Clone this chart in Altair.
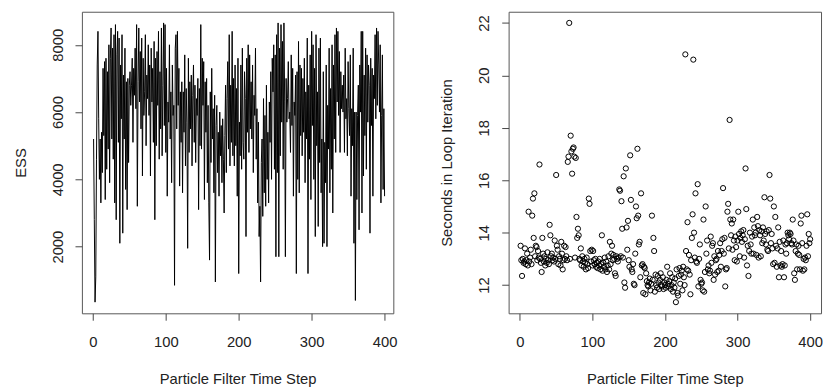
import altair as alt
import pandas as pd

# ---- data ----
ESS = [
    5200, 2800, 350, 1100, 4600, 7400, 8400, 5800, 4000, 5200, 3300, 5400, 4200, 7300, 5300, 7500, 3400, 7600, 4300, 7200,
    4900, 8000, 3900, 7600, 8500, 5200, 7900, 4600, 8300, 3300, 8600, 2800, 7700, 8400, 5100, 8200, 2100, 7400, 5800, 8300,
    2400, 7100, 5200, 7900, 3700, 6900, 3100, 7000, 4500, 6800, 7200, 6200, 6800, 7600, 5100, 7300, 6500, 7900, 6100, 8600,
    3200, 6900, 8500, 6300, 7800, 5500, 8200, 4100, 7600, 5900, 6600, 8300, 5000, 7100, 6400, 8000, 5900, 7400, 4100, 7900,
    6300, 7300, 5100, 8100, 2800, 7600, 5000, 7800, 6200, 8400, 4600, 7200, 5500, 8500, 4700, 6800, 8650, 5600, 8600, 4800,
    7300, 3500, 6300, 5700, 8000, 5200, 6600, 3900, 7400, 5900, 6200, 850, 7900, 8300, 5500, 8400, 6200, 7300, 3800, 6600,
    5100, 6900, 3600, 6600, 5400, 7700, 4400, 6700, 5700, 1950, 7600, 4800, 6900, 5500, 7100, 4400, 6500, 7400, 5100, 6800,
    4500, 6400, 5900, 7000, 3100, 6700, 5000, 8600, 4900, 7600, 6200, 7500, 3400, 6900, 5400, 7000, 3900, 6200, 3300, 1600,
    6600, 4500, 7300, 5200, 6100, 3600, 6500, 950, 5600, 6200, 4200, 5400, 3500, 6000, 4700, 5600, 3900, 5800, 4600, 3000,
    5300, 6800, 4200, 6400, 7500, 4900, 8300, 4400, 6800, 5100, 8400, 4700, 7000, 4400, 7400, 5000, 6700, 3500, 7600, 1200,
    5700, 4700, 7400, 4300, 7900, 5100, 4600, 7200, 6400, 2300, 7600, 5400, 8000, 4800, 7700, 5500, 6900, 5200, 7400, 4200,
    6500, 5900, 7900, 4600, 6100, 3300, 5700, 2300, 3200, 950, 4500, 5200, 2900, 6400, 3600, 5900, 3200, 6800, 4000, 5400,
    3300, 6300, 5100, 7200, 4000, 7600, 6600, 8000, 4300, 7700, 1700, 8300, 4200, 8650, 1700, 7900, 4700, 8600, 5700, 8100,
    4300, 8650, 6300, 1700, 7000, 5700, 6400, 7500, 5800, 6000, 4800, 7700, 5600, 7300, 3500, 6300, 5900, 7100, 1200, 7200,
    4000, 8100, 3600, 7400, 5300, 7300, 4700, 7000, 5400, 7600, 3900, 6600, 5200, 8200, 1200, 6800, 4600, 7700, 3400, 8400,
    5600, 8000, 4000, 7300, 2300, 8300, 5000, 6600, 2600, 7900, 4500, 8200, 3600, 5200, 2000, 7200, 2100, 5100, 3900, 7400,
    2000, 6200, 4900, 7900, 3600, 6700, 4300, 8000, 3000, 7400, 5200, 8300, 4800, 8500, 6300, 8400, 5900, 7800, 4800, 7200,
    6100, 6800, 6000, 7100, 4800, 7900, 5800, 6400, 4700, 7500, 6100, 5300, 7700, 3500, 6100, 5000, 7900, 2100, 6000, 400,
    6000, 3400, 5900, 6800, 2500, 7400, 6000, 8400, 3000, 8400, 4100, 7100, 5300, 7900, 4300, 7700, 5700, 7400, 6800, 2400,
    7600, 5600, 7300, 3500, 7100, 6400, 8300, 5800, 8500, 6200, 8400, 7400, 6000, 8000, 3300, 5900, 7700, 3700, 6100, 3500,
]

SECONDS = [
    13.5, 12.95, 12.35, 13.0, 12.85, 12.9, 13.4, 12.8, 12.95, 13.2, 12.75, 14.8, 12.9, 13.05, 13.35, 12.8, 14.65, 15.3, 13.8, 15.5,
    13.1, 13.5, 13.45, 12.95, 13.3, 13.05, 16.6, 13.0, 12.85, 12.5, 13.8, 13.2, 12.9, 13.1, 12.75, 13.0, 12.85, 13.25, 12.95, 12.8,
    14.3, 13.9, 13.1, 13.2, 12.95, 13.05, 12.9, 13.7, 13.0, 16.2, 13.5, 13.35, 12.8, 13.1, 13.0, 12.75, 13.65, 13.2, 12.6, 12.95,
    13.5, 13.0, 13.45, 13.1, 12.95, 16.7, 16.9, 22.0, 13.0, 17.7, 17.1, 16.25, 17.2, 17.25, 16.9, 13.05, 16.85, 14.6, 13.8, 14.15,
    13.9, 13.0, 12.95, 13.4, 12.75, 13.1, 12.9, 12.7, 13.0, 12.85, 12.6, 13.05, 12.8, 12.65, 15.3, 15.1, 13.3, 12.9, 13.35, 12.75,
    13.3, 12.95, 12.8, 13.0, 12.7, 12.85, 12.65, 12.9, 12.75, 13.0, 12.6, 12.8, 13.9, 12.55, 12.85, 12.7, 13.05, 12.6, 12.9, 12.5,
    12.75, 13.1, 12.6, 13.65, 12.8, 13.2, 13.5, 12.95, 13.15, 13.0, 12.45, 12.35, 13.1, 13.0, 12.9, 13.05, 15.65, 15.6, 13.1, 15.2,
    14.15, 13.05, 16.15, 12.1, 11.9, 16.45, 14.2, 13.35, 14.45, 12.95, 12.7, 16.95, 15.25, 12.6, 12.5, 12.8, 12.05, 12.0, 13.2, 15.0,
    14.55, 17.2, 14.65, 13.55, 13.65, 12.3, 15.5, 12.75, 12.8, 11.7, 12.7, 12.65, 11.65, 12.45, 12.15, 12.0, 11.95, 12.1, 12.25, 11.8,
    12.05, 14.65, 12.2, 13.8, 13.3, 11.75, 12.4, 12.0, 11.9, 12.35, 12.1, 11.85, 12.2, 12.45, 12.0, 11.95, 12.3, 11.85, 12.1, 12.0,
    11.9, 12.2, 12.7, 12.05, 11.95, 12.15, 12.45, 11.85, 12.0, 12.3, 11.75, 12.1, 11.9, 12.25, 11.35, 12.6, 11.7, 11.6, 12.35, 12.65,
    12.05, 12.4, 12.55, 11.8, 12.7, 12.3, 12.0, 20.8, 13.3, 12.6, 14.4, 12.55, 13.15, 12.4, 11.65, 12.95, 13.8, 14.7, 20.6, 14.0,
    13.05, 15.5, 12.9, 12.85, 15.85, 11.95, 13.0, 13.55, 12.2, 12.05, 12.1, 11.8, 14.5, 11.75, 12.5, 15.0, 13.2, 13.7, 12.6, 12.75,
    12.45, 12.55, 13.85, 12.85, 13.5, 13.6, 12.2, 13.1, 12.4, 12.95, 13.0, 12.5, 13.3, 12.55, 13.15, 13.6, 12.7, 13.3, 13.75, 15.7,
    13.2, 13.8, 11.95, 12.6, 12.65, 14.8, 15.1, 13.4, 18.3, 14.5, 13.9, 14.35, 13.35, 14.5, 13.7, 12.95, 13.85, 13.45, 12.9, 13.7,
    14.8, 13.95, 13.1, 13.8, 14.05, 13.65, 13.9, 14.1, 13.05, 13.75, 16.45, 14.9, 12.75, 13.5, 12.35, 13.3, 14.0, 13.55, 13.2, 13.85,
    14.5, 13.2, 14.2, 13.9, 14.0, 13.15, 14.6, 14.25, 13.05, 14.1, 13.9, 13.1, 14.05, 13.6, 14.2, 13.7, 15.35, 13.95, 13.55, 14.05,
    13.35, 13.3, 14.1, 16.2, 15.3, 13.6, 13.95, 13.4, 12.8, 15.0, 12.85, 14.6, 13.5, 12.7, 13.4, 14.2, 12.3, 13.65, 12.75, 13.3,
    12.7, 12.8, 13.7, 12.3, 12.75, 13.55, 13.2, 13.6, 14.0, 13.9, 13.75, 14.0, 13.95, 13.6, 13.55, 14.5, 13.7, 12.45, 12.2, 13.3,
    13.55, 12.6, 13.2, 13.5, 13.15, 12.6, 14.35, 14.65, 13.6, 12.55, 13.0, 12.6, 13.05, 12.95, 13.5, 14.7, 13.1, 13.95, 13.6, 13.75,
]

STEPS_ESS = list(range(1, len(ESS) + 1))
STEPS_SEC = list(range(1, len(SECONDS) + 1))

X_TICKS = [0, 100, 200, 300, 400]
ESS_TICKS = [2000, 4000, 6000, 8000]
SEC_TICKS = [12, 14, 16, 18, 20, 22]

FONT = "Liberation Sans"
TXT = "#222222"

ess_df = pd.DataFrame({"step": STEPS_ESS, "ess": ESS})
sec_df = pd.DataFrame({"step": STEPS_SEC, "sec": SECONDS})


def x_axis():
    return alt.Axis(values=X_TICKS, format="d", title="Particle Filter Time Step",
                    labelPadding=15, titleY=59.5, titleBaseline="top")


def y_axis(title, ticks):
    return alt.Axis(values=ticks, format="d", title=title, labelAngle=270,
                    labelAlign="center", labelBaseline="alphabetic",
                    labelPadding=13, titleAngle=270,
                    titleBaseline="alphabetic", titleX=-57.6)


left = alt.Chart(ess_df).mark_line(color="black", strokeWidth=1).encode(
    x=alt.X("step:Q", scale=alt.Scale(domain=[-15, 412], nice=False, zero=False),
            axis=x_axis()),
    y=alt.Y("ess:Q", scale=alt.Scale(domain=[18, 8982], nice=False, zero=False),
            axis=y_axis("ESS", ESS_TICKS)),
).properties(width=316, height=306)

right = alt.Chart(sec_df).mark_point(filled=False, color="black", size=28,
                                     strokeWidth=1, opacity=1).encode(
    x=alt.X("step:Q", scale=alt.Scale(domain=[-15.5, 415], nice=False, zero=False),
            axis=x_axis()),
    y=alt.Y("sec:Q", scale=alt.Scale(domain=[10.924, 22.426], nice=False, zero=False),
            axis=y_axis("Seconds in Loop Iteration", SEC_TICKS)),
).properties(width=317, height=306)

chart = alt.hconcat(left, right, spacing=41).properties(
    padding={"left": 4, "top": 0, "right": 0, "bottom": 0},
    background="white",
).configure_view(stroke="#555555", strokeWidth=1).configure_axis(
    grid=False, domain=False, ticks=True, tickColor="#444444", tickSize=7,
    tickWidth=1, labelFont=FONT, labelFontSize=15, labelColor=TXT,
    titleFont=FONT, titleFontSize=15, titleFontWeight="normal", titleColor=TXT,
    labelFlush=False, labelOverlap=False,
)

chart.save("out.html", embed_options={"renderer": "svg", "actions": False})
